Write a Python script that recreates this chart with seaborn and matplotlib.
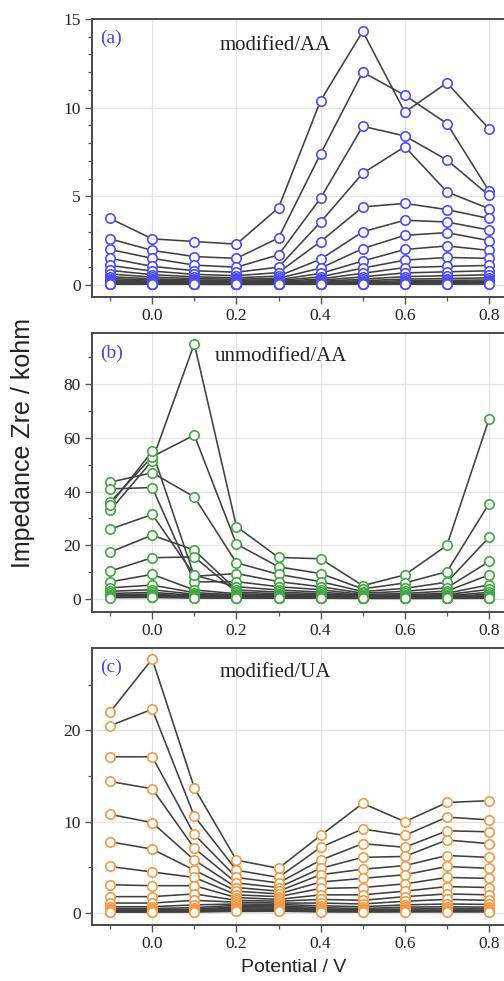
import numpy as np
import pandas as pd
import matplotlib
matplotlib.use("Agg")
import matplotlib.pyplot as plt
from matplotlib.ticker import MultipleLocator
import seaborn as sns

# ---------------- data ----------------
potential = [-0.1, 0.0, 0.1, 0.2, 0.3, 0.4, 0.5, 0.6, 0.7, 0.8]
xtick_major = [0.0, 0.2, 0.4, 0.6, 0.8]

zre_modified_aa = [
    [3.75, 2.60, 2.45, 2.30, 4.35, 10.40, 14.30, 9.75, 11.40, 8.80],
    [2.60, 1.95, 1.60, 1.50, 2.65, 7.40, 12.00, 10.70, 9.10, 5.30],
    [2.00, 1.50, 1.12, 1.00, 1.70, 4.90, 8.95, 8.40, 7.05, 5.05],
    [1.50, 1.05, 0.80, 0.72, 1.00, 3.55, 6.30, 7.80, 5.25, 4.30],
    [1.10, 0.78, 0.60, 0.52, 0.70, 2.45, 4.40, 4.60, 4.25, 3.75],
    [0.82, 0.58, 0.46, 0.40, 0.50, 1.45, 3.00, 3.65, 3.55, 3.10],
    [0.62, 0.44, 0.36, 0.32, 0.38, 0.95, 2.05, 2.80, 2.95, 2.50],
    [0.47, 0.34, 0.28, 0.26, 0.30, 0.65, 1.35, 2.00, 2.20, 1.95],
    [0.36, 0.27, 0.23, 0.21, 0.24, 0.46, 0.95, 1.40, 1.55, 1.50],
    [0.28, 0.21, 0.18, 0.17, 0.19, 0.34, 0.66, 0.98, 1.05, 1.10],
    [0.22, 0.17, 0.15, 0.14, 0.15, 0.26, 0.46, 0.68, 0.74, 0.80],
    [0.18, 0.14, 0.12, 0.11, 0.12, 0.20, 0.33, 0.47, 0.52, 0.57],
    [0.15, 0.11, 0.10, 0.09, 0.10, 0.16, 0.24, 0.33, 0.36, 0.40],
    [0.12, 0.09, 0.08, 0.08, 0.08, 0.13, 0.18, 0.24, 0.26, 0.28],
    [0.10, 0.08, 0.07, 0.07, 0.07, 0.10, 0.13, 0.17, 0.19, 0.20],
    [0.09, 0.07, 0.06, 0.06, 0.06, 0.08, 0.10, 0.13, 0.14, 0.15],
    [0.08, 0.06, 0.05, 0.05, 0.05, 0.07, 0.08, 0.10, 0.11, 0.11],
    [0.07, 0.05, 0.05, 0.04, 0.05, 0.06, 0.07, 0.08, 0.08, 0.09],
    [0.06, 0.05, 0.04, 0.04, 0.04, 0.05, 0.06, 0.06, 0.07, 0.07],
    [0.05, 0.04, 0.04, 0.03, 0.04, 0.04, 0.05, 0.05, 0.05, 0.06],
]

zre_unmodified_aa = [
    [33.0, 51.5, 95.0, 27.0, 15.5, 15.0, 5.0, 9.0, 20.0, 67.0],
    [36.0, 53.0, 61.0, 20.5, 12.0, 9.5, 3.8, 6.0, 10.2, 35.5],
    [43.5, 47.0, 38.0, 13.5, 9.2, 6.5, 2.8, 4.0, 6.3, 23.0],
    [35.0, 55.0, 8.5, 9.5, 6.5, 4.6, 2.2, 2.9, 4.2, 14.0],
    [41.0, 41.5, 6.4, 6.5, 4.6, 3.5, 1.7, 2.1, 3.0, 9.0],
    [26.0, 31.5, 8.9, 4.6, 3.4, 2.6, 1.4, 1.6, 2.2, 5.3],
    [17.5, 23.8, 18.2, 3.4, 2.6, 2.0, 1.1, 1.3, 1.7, 3.6],
    [10.4, 15.4, 15.7, 2.6, 2.0, 1.6, 0.9, 1.0, 1.3, 2.5],
    [6.4, 9.2, 3.4, 2.0, 1.6, 1.3, 0.8, 0.85, 1.0, 1.8],
    [4.2, 5.2, 2.4, 1.6, 1.3, 1.0, 0.7, 0.7, 0.8, 1.3],
    [2.9, 3.5, 1.8, 1.3, 1.1, 0.85, 0.6, 0.6, 0.65, 1.0],
    [2.1, 2.5, 1.4, 1.1, 0.9, 0.7, 0.5, 0.5, 0.55, 0.8],
    [1.6, 1.9, 1.1, 0.9, 0.75, 0.6, 0.45, 0.45, 0.5, 0.65],
    [1.2, 1.4, 0.9, 0.75, 0.65, 0.5, 0.4, 0.4, 0.42, 0.55],
    [1.0, 1.1, 0.75, 0.65, 0.55, 0.45, 0.35, 0.35, 0.38, 0.45],
    [0.8, 0.9, 0.6, 0.55, 0.5, 0.4, 0.32, 0.32, 0.34, 0.4],
    [0.65, 0.7, 0.5, 0.45, 0.42, 0.35, 0.3, 0.3, 0.3, 0.35],
    [0.55, 0.6, 0.45, 0.4, 0.38, 0.32, 0.28, 0.28, 0.28, 0.3],
]

zre_modified_ua = [
    [22.0, 27.8, 13.7, 5.8, 4.9, 8.5, 12.0, 10.0, 12.1, 12.3],
    [20.5, 22.3, 10.6, 4.7, 3.9, 7.2, 9.2, 8.5, 10.5, 10.2],
    [17.1, 17.1, 8.6, 3.9, 3.3, 5.8, 7.6, 7.2, 9.0, 8.9],
    [14.4, 13.6, 7.1, 3.3, 2.8, 4.9, 6.1, 6.2, 8.0, 7.6],
    [10.8, 9.9, 5.8, 2.8, 2.4, 4.2, 4.8, 5.2, 6.3, 6.1],
    [7.8, 7.0, 4.7, 2.4, 2.1, 3.4, 3.8, 4.2, 5.1, 4.9],
    [5.1, 4.5, 3.9, 2.0, 1.8, 2.7, 2.8, 3.2, 3.9, 3.8],
    [3.1, 3.0, 3.0, 1.7, 1.5, 2.0, 2.0, 2.4, 2.9, 2.8],
    [1.8, 1.8, 2.1, 1.4, 1.3, 1.5, 1.4, 1.8, 2.1, 2.0],
    [1.1, 1.1, 1.4, 1.2, 1.1, 1.1, 1.0, 1.3, 1.5, 1.4],
    [0.7, 0.7, 0.9, 1.0, 0.95, 0.8, 0.7, 0.9, 1.0, 0.95],
    [0.5, 0.5, 0.6, 0.85, 0.8, 0.6, 0.5, 0.65, 0.7, 0.65],
    [0.35, 0.35, 0.42, 0.7, 0.68, 0.45, 0.38, 0.45, 0.5, 0.45],
    [0.28, 0.28, 0.3, 0.58, 0.56, 0.35, 0.3, 0.33, 0.35, 0.33],
    [0.22, 0.22, 0.24, 0.46, 0.45, 0.28, 0.24, 0.26, 0.27, 0.26],
    [0.18, 0.18, 0.2, 0.36, 0.36, 0.22, 0.2, 0.21, 0.22, 0.21],
    [0.15, 0.15, 0.16, 0.26, 0.27, 0.18, 0.16, 0.17, 0.18, 0.17],
    [0.12, 0.12, 0.13, 0.18, 0.2, 0.14, 0.13, 0.14, 0.14, 0.14],
]

panel_tags = ["(a)", "(b)", "(c)"]
panel_titles = ["modified/AA", "unmodified/AA", "modified/UA"]

# ---------------- style ----------------
sns.set_style("ticks")
plt.rcParams["font.family"] = ["Liberation Serif", "DejaVu Serif"]

W, H = 504, 981
fig = plt.figure(figsize=(W / 100, H / 100), dpi=100)

left_px = 92
right_px = 508
panels_px = [(19, 297), (333, 612), (648, 925)]
ylims = [(-0.68, 15.0), (-4.8, 99.0), (-1.3, 29.0)]
ymajor = [5, 20, 10]
yminor = [1, 10, 5]
marker_colors = ["#4d4df2", "#43a743", "#f59a45"]
tag_colors = ["#4646e0", "#4646e0", "#4646e0"]
datasets = [zre_modified_aa, zre_unmodified_aa, zre_modified_ua]
tag_pos = [(0.019, 0.93), (0.019, 0.928), (0.019, 0.931)]
title_pos = [(0.44, 0.906), (0.455, 0.914), (0.44, 0.91)]


def to_long(series_list):
    rows = []
    for sid, vals in enumerate(series_list):
        for x, v in zip(potential, vals):
            rows.append({"series": sid, "potential": x, "zre": v})
    return pd.DataFrame(rows)


for i, (top, bot) in enumerate(panels_px):
    ax = fig.add_axes([left_px / W, 1 - bot / H, (right_px - left_px) / W, (bot - top) / H])
    df = to_long(datasets[i])
    # lines
    sns.lineplot(data=df, x="potential", y="zre", units="series", estimator=None,
                 color="#404040", linewidth=1.15, ax=ax, legend=False, zorder=2)
    # markers on top
    sns.scatterplot(data=df, x="potential", y="zre", ax=ax, s=46, marker="o",
                    facecolor="white", edgecolor=marker_colors[i], linewidth=1.2,
                    legend=False, zorder=3)

    ax.set_xlim(-0.143, 0.845)
    ax.set_ylim(*ylims[i])
    ax.set_xticks(xtick_major)
    ax.set_xticklabels([f"{t:.1f}" for t in xtick_major])
    ax.xaxis.set_minor_locator(MultipleLocator(0.1))
    ax.yaxis.set_major_locator(MultipleLocator(ymajor[i]))
    ax.yaxis.set_minor_locator(MultipleLocator(yminor[i]))
    ax.set_xlabel("")
    ax.set_ylabel("")
    ax.grid(True, which="major", color="#e3e3e3", linewidth=0.9, zorder=0)
    ax.set_axisbelow(True)
    for sp in ax.spines.values():
        sp.set_color("#4a4a4a")
        sp.set_linewidth(1.4)
    ax.tick_params(axis="both", which="major", direction="out", length=5, width=1.0,
                   color="#555555", labelsize=12.5, labelcolor="#222222", pad=3)
    ax.tick_params(axis="both", which="minor", direction="out", length=3, width=0.9,
                   color="#555555")
    ax.text(tag_pos[i][0], tag_pos[i][1], panel_tags[i], transform=ax.transAxes,
            ha="left", va="center", fontsize=14, color=tag_colors[i])
    ax.text(title_pos[i][0], title_pos[i][1], panel_titles[i], transform=ax.transAxes,
            ha="center", va="center", fontsize=15, color="#222222")

fig.text(23 / W, 1 - 443 / H, "Impedance Zre / kohm", rotation=90, ha="center", va="center",
         fontsize=18, family=["Liberation Sans", "DejaVu Sans"], color="#222222")
fig.text(294 / W, 1 - 968 / H, "Potential / V", ha="center", va="center",
         fontsize=14, family=["Liberation Sans", "DejaVu Sans"], color="#222222")

fig.savefig("out.png", dpi=100)
